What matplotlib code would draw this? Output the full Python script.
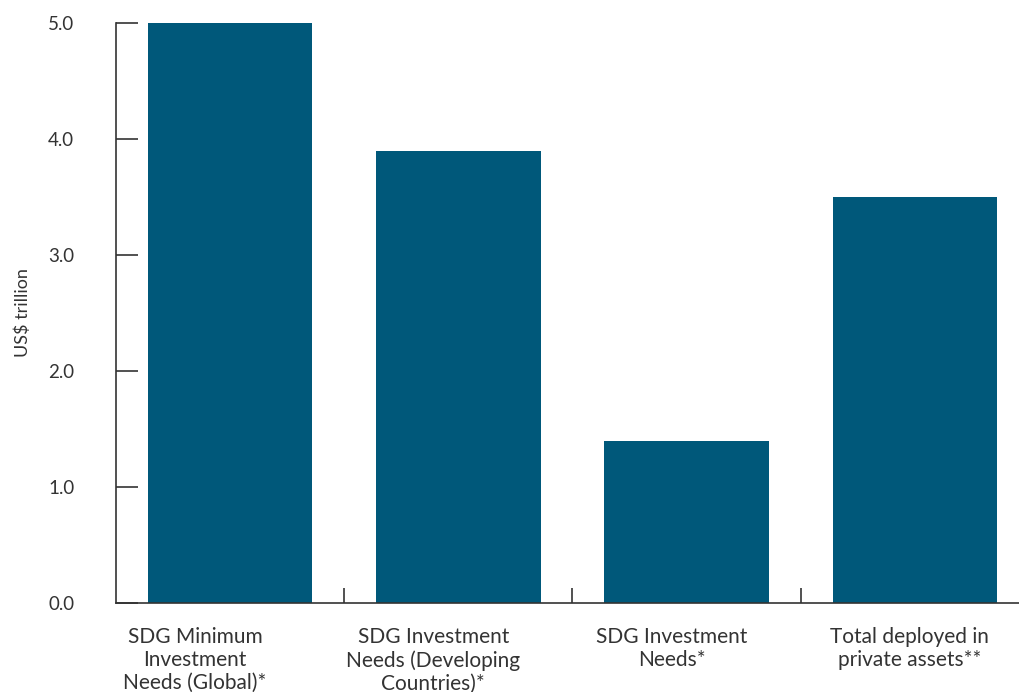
import matplotlib.pyplot as plt

categories = [
    "SDG Minimum\nInvestment\nNeeds (Global)*",
    "SDG Investment\nNeeds (Developing\nCountries)*",
    "SDG Investment\nNeeds*",
    "Total deployed in\nprivate assets**",
]
values = [5.0, 3.9, 1.4, 3.5]
yticks = [0.0, 1.0, 2.0, 3.0, 4.0, 5.0]

plt.rcParams['font.family'] = ['Lato', 'DejaVu Sans']
text_color = "#333333"

fig = plt.figure(figsize=(10.19, 6.92), dpi=100)
ax = fig.add_axes([116 / 1019, 1 - 603 / 692, 913 / 1019, 580 / 692])

x = list(range(len(values)))
ax.bar(x, values, width=0.72, color="#00587A", zorder=2)

ax.set_xlim(-0.5, 3.5)
ax.set_ylim(0, 5)

for s in ["top", "right"]:
    ax.spines[s].set_visible(False)
for s in ["left", "bottom"]:
    ax.spines[s].set_color(text_color)
    ax.spines[s].set_linewidth(1.2)

ax.set_yticks(yticks)
ax.set_yticklabels([f"{v:.1f}" for v in yticks])
ax.tick_params(axis="y", direction="in", length=16, width=1.2, color=text_color,
               labelsize=13.5, labelcolor=text_color, pad=30)

# category labels in the original sit on a slightly wider pitch than the bars
label_pos = [i * 1.044 - 0.154 for i in x]
ax.set_xticks(label_pos)
ax.set_xticklabels(categories, linespacing=1.2)
ax.tick_params(axis="x", which="major", length=0, labelsize=15,
               labelcolor=text_color, pad=17)
ax.set_xticks([0.5, 1.5, 2.5], minor=True)
ax.tick_params(axis="x", which="minor", direction="in", length=11, width=1.2,
               color=text_color)

ax.set_ylabel("US$ trillion", fontsize=13, color=text_color, labelpad=12)

fig.savefig("out.png", dpi=100)
